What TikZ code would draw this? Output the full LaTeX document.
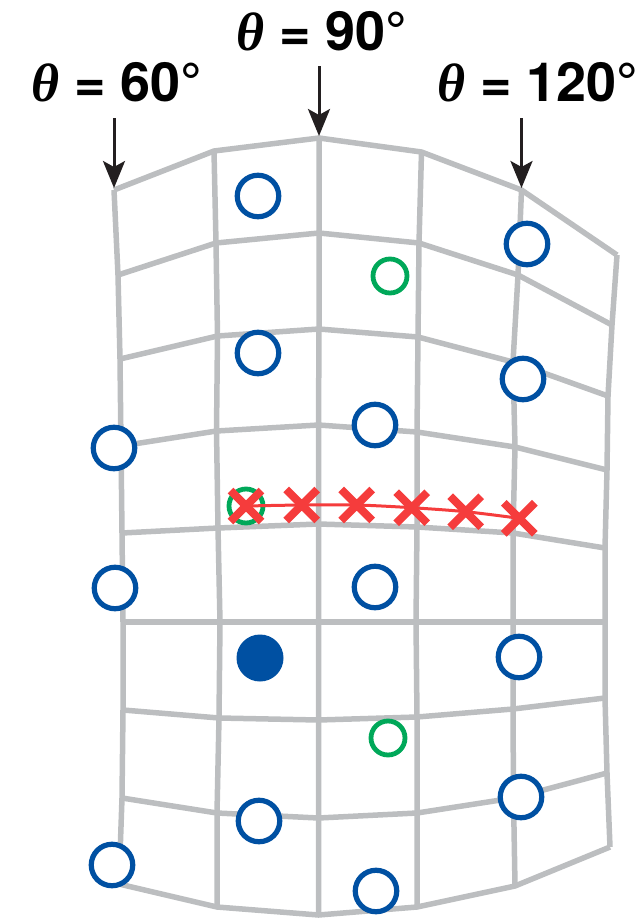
\documentclass[tikz,border=0pt]{standalone}
\usepackage{fontspec}
\setmainfont{TeX Gyre Heros}
\newfontfamily\thetafont{Liberation Serif}
\usetikzlibrary{arrows.meta,shapes.misc}
\definecolor{gridgray}{RGB}{188,190,192}
\definecolor{dotblue}{RGB}{0,80,162}
\definecolor{dotgreen}{RGB}{0,168,89}
\definecolor{xred}{RGB}{245,60,60}
\definecolor{arrowblack}{RGB}{35,31,32}
\tikzset{
  gridline/.style={draw=gridgray, line width=5.5pt},
  bcirc/.style={circle, draw=dotblue, fill=white, line width=5.2pt, inner sep=0pt, minimum size=41.5pt},
  bfill/.style={circle, fill=dotblue, inner sep=0pt, minimum size=47pt},
  gcirc/.style={circle, draw=dotgreen, fill=white, line width=4.8pt, inner sep=0pt, minimum size=34pt},
  xmark/.style={cross out, draw=xred, line width=8pt, inner sep=0pt, minimum size=23pt},
  redline/.style={draw=xred, line width=3pt},
  arr/.style={draw=arrowblack, line width=3pt, -{Stealth[length=27pt,width=22pt,inset=6pt]}},
  lbl/.style={anchor=base, inner sep=0pt, font=\fontsize{54}{58}\selectfont\bfseries, text=black}
}
\newcommand{\thetasym}{{\thetafont\bfseries\itshape θ}}
\begin{document}
\begin{tikzpicture}[x=1pt, y=-1pt]
\useasboundingbox (0,0) rectangle (643,918);
% grid vertices: column i, row j
\coordinate (c0r0) at (114,190);   \coordinate (c0r1) at (118,275);   \coordinate (c0r2) at (120,359);
\coordinate (c0r3) at (121,446);   \coordinate (c0r4) at (122,533);   \coordinate (c0r5) at (123,622);
\coordinate (c0r6) at (123,710);   \coordinate (c0r7) at (122,798);   \coordinate (c0r8) at (119,884);
\coordinate (c1r0) at (214,151);   \coordinate (c1r1) at (216,243);   \coordinate (c1r2) at (217.5,336);
\coordinate (c1r3) at (216.5,431); \coordinate (c1r4) at (218,528);   \coordinate (c1r5) at (220,622);
\coordinate (c1r6) at (219,718);   \coordinate (c1r7) at (217,813);   \coordinate (c1r8) at (217,907);
\coordinate (c2r0) at (319,138);   \coordinate (c2r1) at (319,233);   \coordinate (c2r2) at (319,329);
\coordinate (c2r3) at (318.5,425); \coordinate (c2r4) at (318.5,524); \coordinate (c2r5) at (318.5,622);
\coordinate (c2r6) at (318.5,720); \coordinate (c2r7) at (318.5,818); \coordinate (c2r8) at (318.5,915);
\coordinate (c3r0) at (421.5,152); \coordinate (c3r1) at (419,243);   \coordinate (c3r2) at (418,337);
\coordinate (c3r3) at (417,432);   \coordinate (c3r4) at (417,527);   \coordinate (c3r5) at (416,622);
\coordinate (c3r6) at (417,717);   \coordinate (c3r7) at (417,813);   \coordinate (c3r8) at (417,907);
\coordinate (c4r0) at (521.5,190); \coordinate (c4r1) at (518,275);   \coordinate (c4r2) at (513,362);
\coordinate (c4r3) at (515,447);   \coordinate (c4r4) at (513,533);   \coordinate (c4r5) at (513,622);
\coordinate (c4r6) at (513,709);   \coordinate (c4r7) at (513.5,798); \coordinate (c4r8) at (515,886);
\coordinate (c5r0) at (617,255);   \coordinate (c5r1) at (612,325);   \coordinate (c5r2) at (608,396);
\coordinate (c5r3) at (607,470);   \coordinate (c5r4) at (605,548);   \coordinate (c5r5) at (605,622);
\coordinate (c5r6) at (605,698);   \coordinate (c5r7) at (607,773);   \coordinate (c5r8) at (610,847);
% columns
\foreach \i in {0,...,5}{
  \draw[gridline] (c\i r0) -- (c\i r1) -- (c\i r2) -- (c\i r3) -- (c\i r4) -- (c\i r5) -- (c\i r6) -- (c\i r7) -- (c\i r8);
}
% rows
\foreach \j in {0,...,8}{
  \draw[gridline] (c0r\j) -- (c1r\j) -- (c2r\j) -- (c3r\j) -- (c4r\j) -- (c5r\j);
}
% labels and arrows
\node[lbl] (t60) at (117,101) {\thetasym{} = 60°};
\node[lbl] (t90) at (322,50) {\thetasym{} = 90°};
\node[lbl] (t120) at (538,101) {\thetasym{} = 120°};
\coordinate (a60) at (114,118);
\coordinate (a90) at (319,66);
\coordinate (a120) at (521.5,118);
\draw[arr, shorten >=2pt] (a60) -- (c0r0);
\draw[arr, shorten >=2pt] (a90) -- (c2r0);
\draw[arr, shorten >=2pt] (a120) -- (c4r0);
% green circles
\node[gcirc] (g1) at (390,276) {};
\node[gcirc] (g2) at (388,738) {};
\node[gcirc] (g3) at (246,506) {};
% red markers
\coordinate (p1) at (246,506);
\coordinate (p2) at (301.7,505);
\coordinate (p3) at (356.7,505);
\coordinate (p4) at (411.7,507.7);
\coordinate (p5) at (465.7,511.7);
\coordinate (p6) at (519.3,518.3);
\draw[redline] plot[smooth, tension=0.5] coordinates {(p1) (p2) (p3) (p4) (p5) (p6)};
\node[xmark] (x1) at (p1) {};
\node[xmark] (x2) at (p2) {};
\node[xmark] (x3) at (p3) {};
\node[xmark] (x4) at (p4) {};
\node[xmark] (x5) at (p5) {};
\node[xmark] (x6) at (p6) {};
% blue circles
\node[bcirc] (b1) at (258,196) {};
\node[bcirc] (b2) at (527,244) {};
\node[bcirc] (b3) at (258,353) {};
\node[bcirc] (b4) at (523,379) {};
\node[bcirc] (b5) at (375,425) {};
\node[bcirc] (b6) at (114,448) {};
\node[bcirc] (b7) at (115,588) {};
\node[bcirc] (b8) at (375,587) {};
\node[bcirc] (b9) at (519,657) {};
\node[bcirc] (b10) at (521,797) {};
\node[bcirc] (b11) at (259,821) {};
\node[bcirc] (b12) at (112,865) {};
\node[bcirc] (b13) at (376,891) {};
\node[bfill] (bf) at (260,658) {};
\end{tikzpicture}
\end{document}
